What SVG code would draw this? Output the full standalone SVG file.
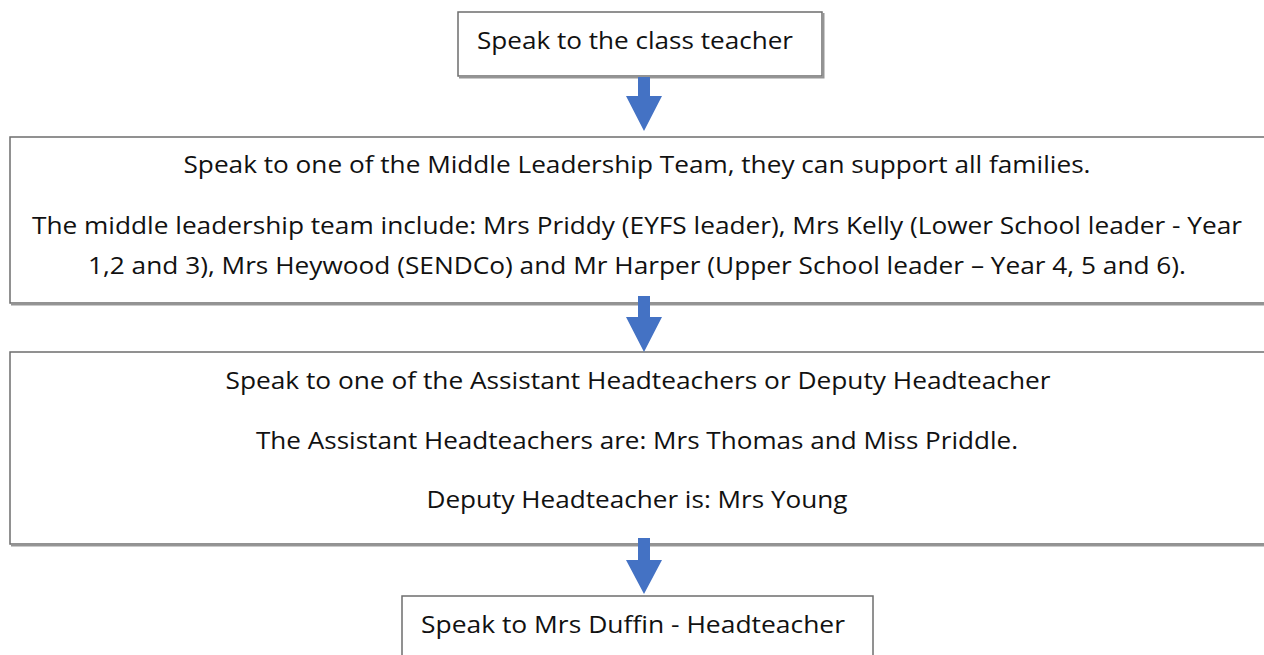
<svg xmlns="http://www.w3.org/2000/svg" width="1264" height="655" viewBox="0 0 1264 655">
<style>
.box{fill:#ffffff;stroke:#6e6e6e;stroke-width:1.5}
.shadow{fill:none;stroke:#959595;stroke-width:2}
.t{font-family:"Open Sans","Liberation Sans",sans-serif;font-size:23px;fill:#111111;text-anchor:middle}
.arrow{fill:#4472c4}
</style>
<rect width="1264" height="655" fill="#ffffff"/>
<g id="node1">
<rect class="box" x="458" y="12" width="364" height="64"/>
<polyline class="shadow" points="823.5,13 823.5,77.5 459,77.5"/>
<text class="t" x="635" y="49" textLength="316" lengthAdjust="spacingAndGlyphs">Speak to the class teacher</text>
</g>
<g id="node2">
<rect class="box" x="10" y="137" width="1270" height="166"/>
<polyline class="shadow" points="11,304.5 1280,304.5"/>
<text class="t" x="637" y="173" textLength="907" lengthAdjust="spacingAndGlyphs">Speak to one of the Middle Leadership Team, they can support all families.</text>
<text class="t" x="637" y="234" textLength="1210" lengthAdjust="spacingAndGlyphs">The middle leadership team include: Mrs Priddy (EYFS leader), Mrs Kelly (Lower School leader - Year</text>
<text class="t" x="637" y="274" textLength="1098" lengthAdjust="spacingAndGlyphs">1,2 and 3), Mrs Heywood (SENDCo) and Mr Harper (Upper School leader – Year 4, 5 and 6).</text>
</g>
<g id="node3">
<rect class="box" x="10" y="352" width="1270" height="192"/>
<polyline class="shadow" points="11,545.5 1280,545.5"/>
<text class="t" x="638" y="389" textLength="825" lengthAdjust="spacingAndGlyphs">Speak to one of the Assistant Headteachers or Deputy Headteacher</text>
<text class="t" x="637" y="449" textLength="762" lengthAdjust="spacingAndGlyphs">The Assistant Headteachers are: Mrs Thomas and Miss Priddle.</text>
<text class="t" x="637" y="508" textLength="421" lengthAdjust="spacingAndGlyphs">Deputy Headteacher is: Mrs Young</text>
</g>
<g id="node4">
<rect class="box" x="402" y="596" width="471" height="80"/>
<text class="t" x="633" y="633" textLength="424" lengthAdjust="spacingAndGlyphs">Speak to Mrs Duffin - Headteacher</text>
</g>
<g id="connectors">
<polygon class="arrow" points="638,77 650,77 650,96 662,96 644,131 626,96 638,96"/>
<polygon class="arrow" points="638,296 650,296 650,317 662,317 644,352 626,317 638,317"/>
<polygon class="arrow" points="638,538 650,538 650,560 662,560 644,594 626,560 638,560"/>
</g>
</svg>
